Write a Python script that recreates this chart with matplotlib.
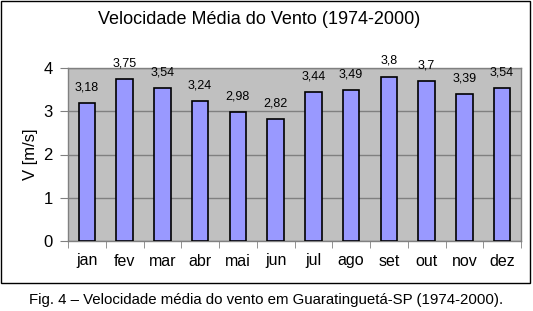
import matplotlib
matplotlib.use("Agg")
import matplotlib.pyplot as plt
from matplotlib.patches import Rectangle
import numpy as np

plt.rcParams['font.family'] = ['Liberation Sans', 'DejaVu Sans']

months = ["jan", "fev", "mar", "abr", "mai", "jun", "jul", "ago", "set", "out", "nov", "dez"]
speeds = [3.18, 3.75, 3.54, 3.24, 2.98, 2.82, 3.44, 3.49, 3.8, 3.7, 3.39, 3.54]
yticks = [0, 1, 2, 3, 4]

W, H = 533, 311
fig = plt.figure(figsize=(W/100, H/100), dpi=100)
fig.patch.set_facecolor("white")
fig.patches.append(Rectangle((1/W, (H-283)/H), 529/W, 282/H, transform=fig.transFigure,
                             fill=False, edgecolor="black", linewidth=1.0))

ax = fig.add_axes([68/W, (H-241)/H, (521-68)/W, (241-68)/H])
ax.set_facecolor("#C0C0C0")
x = np.arange(len(months))
ax.bar(x, speeds, width=0.44, color="#9999FF", edgecolor="black", linewidth=1.2, zorder=3)
ax.set_xlim(-0.5, len(months) - 0.5)
ax.set_ylim(0, 4)
ax.set_yticks(yticks)
ax.set_yticklabels([str(t) for t in yticks], fontsize=12)
ax.yaxis.grid(True, color="#808080", linewidth=1.0, zorder=1)
ax.set_xticks(x)
ax.set_xticklabels(months, fontsize=11.5)
ax.set_xticks(np.arange(-0.5, len(months)), minor=True)
ax.tick_params(axis="x", which="major", length=0, pad=9)
ax.tick_params(axis="x", which="minor", length=5, color="#808080", direction="out")
ax.tick_params(axis="y", length=6, color="#808080", pad=5)
for s in ax.spines.values():
    s.set_color("#808080")
    s.set_linewidth(1.0)

for xi, v in zip(x, speeds):
    ax.annotate(f"{v:g}".replace(".", ","), (xi, v), xytext=(0, 7), textcoords="offset points",
                ha="center", va="bottom", fontsize=9, clip_on=False)

ax.set_ylabel("V [m/s]", fontsize=12, labelpad=4)
fig.text(259/W, 1 - 20/H, "Velocidade Média do Vento (1974-2000)", ha="center", va="center", fontsize=13)
fig.text(266/W, 1 - 300/H, "Fig. 4 – Velocidade média do vento em Guaratinguetá-SP (1974-2000).",
         ha="center", va="center", fontsize=10.8)

fig.savefig("out.png", dpi=100)
